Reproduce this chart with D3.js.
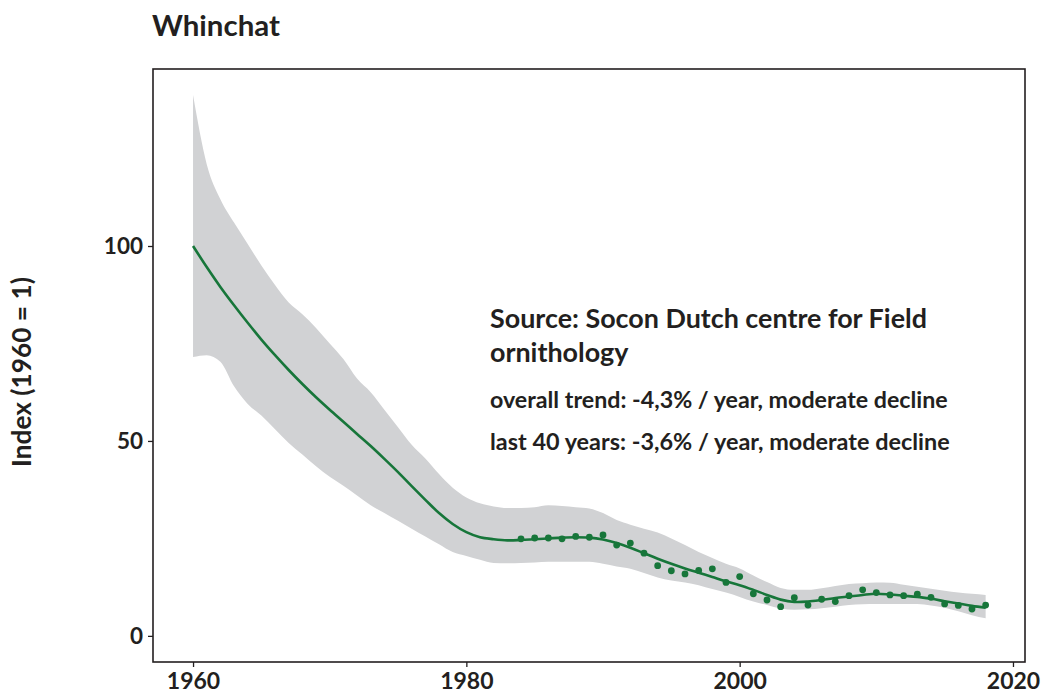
<!DOCTYPE html>
<html>
<head>
<meta charset="utf-8">
<script src="https://cdn.jsdelivr.net/npm/d3@7"></script>
<style>
  html, body { margin: 0; padding: 0; background: #fff; }
  svg { display: block; font-family: Lato, "Open Sans", sans-serif; font-weight: bold; }
</style>
</head>
<body>
<svg id="chart" width="1045" height="695"></svg>
<script>
// ---- data ----
const years = d3.range(1960, 2019);
const trend = [100, 94.6, 89.5, 84.8, 80.3, 76, 72, 68.2, 64.6, 61.2,
  58, 54.9, 51.8, 48.7, 45.4, 42, 38.4, 34.9, 31.5, 28.7,
  26.6, 25.3, 24.8, 24.5, 24.6, 24.8, 25, 25.2, 25.3, 25.2,
  24.7, 23.8, 22.6, 21.2, 19.8, 18.5, 17.3, 16.2, 15.1, 14,
  13, 11.8, 10.5, 9.3, 8.7, 8.8, 9.2, 9.7, 10.1, 10.5,
  10.8, 10.6, 10.3, 10, 9.5, 8.9, 8.3, 7.7, 7.2];
const upper = [138.7, 121, 112, 106, 100.5, 95, 90, 85.5, 82.5, 79,
  75, 71, 66, 62.5, 58, 53.5, 49, 45.5, 41.5, 38,
  35.5, 34, 33.2, 32.8, 32.8, 33, 33.5, 33.3, 33, 32.7,
  31.5, 29.7, 28.5, 27.5, 26.5, 25, 23.3, 21.5, 20, 18.5,
  17.3, 15.5, 13.8, 12.3, 11.8, 11.8, 12.2, 12.8, 13.3, 13.5,
  13.7, 13.6, 13.1, 12.6, 12.1, 11.6, 11.1, 10.8, 10.5];
const lower = [71.5, 72, 70.3, 64, 59.5, 56.5, 53, 49.5, 46.5, 43.5,
  40.8, 38.5, 36, 33.5, 31.5, 29.5, 27.5, 25.5, 23.5, 21.5,
  20.5, 19.5, 18.7, 18.6, 18.7, 18.8, 19, 19, 19, 19,
  18.5, 17.8, 17.2, 16.1, 15, 14.2, 13.7, 13, 12, 11.1,
  10, 8.8, 7.9, 7, 6.7, 6.8, 7.1, 7.5, 7.9, 8.1,
  8.2, 8.2, 8.2, 8.2, 7.8, 7.2, 6.3, 5.3, 4.5];
const obsYears = d3.range(1984, 2019);
const observed = [24.9, 25.1, 25.1, 24.9, 25.5, 25.3, 25.9, 23.3, 23.8, 21.2,
  18.0, 16.7, 15.9, 16.8, 17.2, 13.7, 15.2, 10.8, 9.2, 7.5,
  9.8, 7.9, 9.4, 8.8, 10.3, 11.8, 11.1, 10.5, 10.3, 10.7,
  9.9, 8.2, 7.8, 6.9, 7.9];
const xTicks = [1960, 1980, 2000, 2020];
const yTicks = [0, 50, 100];
const title = "Whinchat";
const yLabel = "Index (1960 = 1)";
const noteLines = [
  "Source: Socon Dutch centre for Field",
  "ornithology",
  "overall trend: -4,3% / year, moderate decline",
  "last 40 years:  -3,6% / year, moderate decline"
];

// ---- layout ----
const svg = d3.select("#chart");
const L = 153, T = 69, R = 1025, B = 662;
const x = d3.scaleLinear().domain([1957.07, 2020.88]).range([L, R]);
const y = d3.scaleLinear().domain([-6.7, 145.4]).range([B, T]);

const ink = "#231f20";
const green = "#17763a";
const band = "#d1d2d4";

function fitWidth(sel, target) {
  const w = sel.node().getComputedTextLength();
  const fs = parseFloat(sel.attr("font-size"));
  sel.attr("font-size", fs * target / w);
}

// band
const area = d3.area()
  .x((d, i) => x(years[i]))
  .y0((d, i) => y(lower[i]))
  .y1((d, i) => y(upper[i]))
  .curve(d3.curveMonotoneX);
svg.append("path").datum(years).attr("d", area).attr("fill", band);

// trend line
const line = d3.line()
  .x((d, i) => x(years[i]))
  .y(d => y(d))
  .curve(d3.curveCatmullRom);
svg.append("path").datum(trend).attr("d", line)
  .attr("fill", "none").attr("stroke", green).attr("stroke-width", 2.6);

// observed points
svg.append("g").selectAll("circle").data(observed).join("circle")
  .attr("cx", (d, i) => x(obsYears[i]))
  .attr("cy", d => y(d))
  .attr("r", 3.4)
  .attr("fill", green);

// frame
svg.append("rect").attr("x", L).attr("y", T).attr("width", R - L).attr("height", B - T)
  .attr("fill", "none").attr("stroke", ink).attr("stroke-width", 1.6);

// axes
const yAxis = svg.append("g").attr("transform", `translate(${L},0)`)
  .call(d3.axisLeft(y).tickValues(yTicks).tickSize(5).tickPadding(5).tickFormat(d3.format("d")));
const xAxis = svg.append("g").attr("transform", `translate(0,${B})`)
  .call(d3.axisBottom(x).tickValues(xTicks).tickSize(5).tickPadding(6).tickFormat(d3.format("d")));
[yAxis, xAxis].forEach(g => {
  g.select(".domain").remove();
  g.selectAll(".tick line").attr("stroke", ink).attr("stroke-width", 1.3);
  g.selectAll("text").attr("fill", ink).attr("font-family", "Lato, 'Open Sans', sans-serif")
    .attr("font-weight", "bold").attr("font-size", 21);
});
yAxis.selectAll("text").attr("font-size", 22.5);
xAxis.selectAll("text").attr("font-size", 23).attr("dy", null).attr("y", 27);

// title
const t = svg.append("text").attr("x", 152).attr("y", 36).attr("font-size", 24)
  .attr("fill", ink).text(title);
fitWidth(t, 128);

// y label
const yl = svg.append("text")
  .attr("transform", "translate(31,372) rotate(-90)")
  .attr("text-anchor", "middle").attr("font-size", 21).attr("fill", ink).text(yLabel);
fitWidth(yl, 190);

// note text
const notes = [
  {y: 328, w: 437, fs: 26},
  {y: 362, w: 138, fs: 26},
  {y: 408, w: 458, fs: 20},
  {y: 450, w: 460, fs: 20}
];
noteLines.forEach((s, i) => {
  const el = svg.append("text").attr("x", 490).attr("y", notes[i].y)
    .attr("font-size", notes[i].fs).attr("fill", ink).text(s);
  if (i !== 1) fitWidth(el, notes[i].w);
});
// match line-2 font size to line 1
const fs0 = svg.selectAll("text").filter(function () { return d3.select(this).text() === noteLines[0]; }).attr("font-size");
svg.selectAll("text").filter(function () { return d3.select(this).text() === noteLines[1]; }).attr("font-size", fs0);
</script>
</body>
</html>
